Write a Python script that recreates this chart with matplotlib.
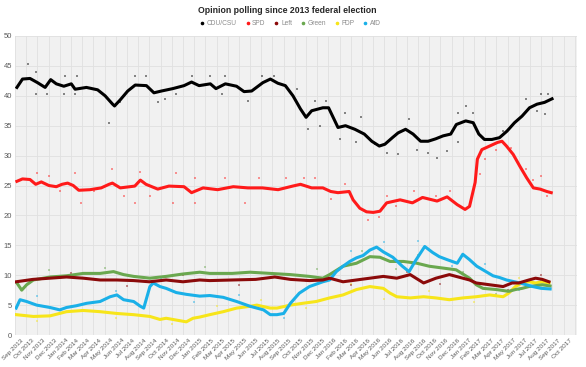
import matplotlib
matplotlib.use("Agg")
import matplotlib.pyplot as plt
from matplotlib.lines import Line2D

plt.rcParams['font.family'] = ['Liberation Sans', 'DejaVu Sans']

# month index: 0 = Sep 2013
months = ["Sep", "Oct", "Nov", "Dec", "Jan", "Feb", "Mar", "Apr", "May", "Jun", "Jul", "Aug"]
tick_labels = []
for i in range(50):
    mo = months[i % 12]
    yr = 2013 + (i + 8) // 12
    tick_labels.append(f"{mo} {yr}")

# trend lines (month index, percent)
cdu_x = [0.17,0.67,1.34,2.01,2.69,3.19,3.69,4.36,5.03,5.37,6.38,7.38,8.05,8.72,8.89,9.39,10.07,10.74,11.74,12.41,13.08,14.09,15.1,15.77,16.44,17.45,17.95,18.79,19.79,20.46,21.14,22.14,22.81,23.48,24.15,24.83,25.5,26.0,26.5,27.5,28.01,28.52,28.85,29.52,30.36,31.2,31.87,32.54,33.04,33.71,34.22,34.89,35.56,36.23,36.9,37.57,38.24,38.92,39.42,40.26,40.93,41.43,41.93,42.6,43.28,43.95,44.62,45.29,45.96,46.63,47.3,47.97]
cdu_v = [41.4,42.8,42.9,42.2,41.4,42.7,42.0,41.6,42.0,41.1,41.4,41.0,40.0,38.6,38.3,39.3,40.8,41.8,41.7,40.5,40.8,41.2,41.7,42.3,41.7,42.0,41.2,42.0,41.6,40.7,40.8,42.2,42.8,42.1,41.7,40.0,37.8,36.4,37.5,38.0,38.0,36.0,34.7,35.0,34.4,33.6,32.4,31.6,31.9,33.0,33.8,34.4,33.6,32.4,32.4,32.8,33.3,33.6,35.2,35.8,35.5,33.6,32.7,32.7,33.0,34.1,35.5,36.6,38.0,38.6,38.9,39.5]

spd_x = [0.17,0.67,1.34,1.85,2.35,3.02,3.69,4.2,4.7,5.2,5.7,6.7,7.7,8.4,8.7,9.4,10.7,11.2,11.7,12.75,13.75,15.1,15.77,16.8,18.1,19.5,20.8,22.1,23.5,24.8,25.5,26.5,27.5,28.2,28.85,29.85,30.2,30.8,31.4,32.0,32.6,33.2,34.4,35.5,36.4,37.7,38.6,39.5,40.2,40.6,41.1,41.3,41.7,42.4,43.1,43.5,43.9,44.5,45.1,45.7,46.3,46.9,47.5,47.9]
spd_v = [25.7,26.1,26.0,25.2,25.6,25.0,24.8,25.2,25.4,25.0,24.2,24.3,24.6,25.2,25.4,24.6,24.9,25.9,25.2,24.4,24.9,24.8,23.8,24.6,24.3,24.8,24.6,24.6,24.3,24.9,25.2,24.6,24.6,24.0,23.8,24.0,22.6,21.2,20.6,20.5,20.7,22.1,22.6,22.1,23.0,22.4,23.1,21.8,21.0,21.5,25.5,29.4,31.0,31.6,32.2,32.4,31.6,30.2,28.2,26.3,24.6,24.4,24.0,23.8]

left_x = [0.1,1.6,4.6,6.1,7.6,9.1,10.6,12.0,13.5,15.0,16.5,17.4,19.4,21.5,23.2,24.6,26.3,27.5,28.1,29.3,30.5,31.7,32.9,34.1,35.3,36.5,37.6,38.8,40.0,40.6,41.2,42.4,43.6,44.4,45.0,45.9,46.5,47.1,47.7]
left_v = [8.9,9.3,9.7,9.5,9.2,9.2,9.1,8.9,9.2,8.9,9.2,9.1,9.2,9.3,9.7,9.3,9.1,9.2,9.5,8.9,9.2,9.5,9.8,9.5,10.1,8.7,9.5,10.1,9.5,9.2,8.7,8.4,8.1,8.7,8.7,9.2,9.5,9.3,8.9]

green_x = [0.17,0.6,1.04,1.64,3.13,4.6,6.1,7.6,8.8,9.7,10.6,12.05,13.5,15.0,16.5,17.4,19.4,21.0,22.8,24.6,26.3,27.5,28.1,29.3,30.5,31.7,32.6,33.5,34.7,35.9,37.0,38.2,39.4,40.6,41.2,41.8,43.0,44.1,44.7,45.3,45.9,47.1,47.8]
green_v = [8.7,7.5,8.4,9.2,9.7,9.9,10.3,10.3,10.6,10.1,9.8,9.5,9.8,10.2,10.5,10.3,10.3,10.5,10.3,10.1,9.8,9.5,10.1,11.5,12.0,13.1,13.0,12.3,12.3,12.0,11.5,11.2,10.9,9.5,8.4,7.8,7.6,7.3,7.6,7.8,8.1,8.4,8.2]

fdp_x = [0.1,1.64,3.13,4.6,6.1,7.6,9.1,10.6,12.05,12.95,13.5,14.4,15.3,15.9,16.5,17.4,18.6,19.8,21.0,21.6,22.8,23.4,24.6,25.7,26.9,28.1,29.3,30.5,31.7,32.9,33.5,34.1,35.3,36.5,37.6,38.8,40.0,41.2,42.4,43.6,44.1,44.7,45.3,45.9,46.5,47.1,47.7]
fdp_v = [3.4,3.1,3.2,3.9,4.1,3.9,3.6,3.4,3.1,2.6,2.8,2.5,2.2,2.8,3.0,3.4,3.9,4.5,4.8,5.0,4.5,4.5,5.0,5.3,5.6,6.2,6.7,7.6,8.1,7.8,7.0,6.4,6.2,6.4,6.2,5.9,6.2,6.4,6.7,6.4,7.0,8.1,8.7,8.9,8.7,8.9,8.7]

afd_x = [0.1,0.45,1.04,1.93,3.13,4.0,4.6,5.5,6.4,7.6,8.5,9.1,9.7,10.6,11.2,11.5,12.05,12.35,12.95,13.5,14.4,15.3,16.5,17.4,18.6,19.8,21.0,22.2,22.8,23.4,24.0,24.6,25.4,26.3,27.5,28.1,28.7,29.3,29.9,30.5,31.1,31.7,32.3,32.9,33.75,34.6,35.2,35.8,36.6,37.3,37.9,38.6,39.5,40.0,40.6,41.25,41.8,42.7,43.3,43.9,45.1,46.25,47.0,47.8]
afd_v = [4.5,5.9,5.6,5.0,4.6,4.2,4.6,4.9,5.3,5.6,6.4,6.7,5.9,5.6,4.8,4.5,8.1,8.7,8.1,7.8,7.1,6.8,6.5,6.6,6.3,5.6,4.8,4.2,3.4,3.4,3.6,5.3,7.0,8.1,8.9,9.2,10.6,11.5,12.3,12.9,13.3,14.2,14.7,13.9,13.0,11.5,10.6,12.5,14.8,13.8,13.1,12.6,12.0,13.5,12.6,11.5,10.9,9.9,9.6,9.2,8.7,8.1,7.8,7.7]

# individual poll results (sampled, month index, percent)
cdu_poll_x = [1.18,1.85,1.85,2.85,4.36,5.37,4.5,5.5,8.4,9.4,10.7,11.7,12.75,13.4,14.4,15.8,17.4,18.8,18.5,20.8,22.1,23.1,25.2,26.2,27.2,26.8,27.8,29.0,29.5,30.9,30.5,32.2,33.2,34.2,35.2,35.9,36.9,37.7,38.6,39.6,40.3,40.9,39.6,42.3,43.6,45.0,45.6,47.0,47.3,47.6,46.6]
cdu_poll_v = [45.3,43.9,40.3,40.3,40.3,40.3,43.3,43.3,35.5,38.9,43.3,43.3,38.9,39.4,40.3,43.3,43.3,43.3,40.3,39.1,43.3,43.3,41.1,34.4,35.0,39.1,39.1,32.7,37.2,36.4,32.2,31.9,30.5,30.2,36.1,31.0,30.5,29.6,30.8,37.2,38.3,37.2,32.2,32.7,34.1,36.1,39.4,40.3,36.9,40.3,37.5]

spd_poll_x = [2.0,3.0,4.0,5.4,5.9,8.7,7.05,9.7,11.2,10.7,12.1,14.4,14.1,16.1,16.1,18.8,20.5,21.8,24.2,25.8,26.8,28.2,29.5,31.5,32.5,33.2,34.0,35.6,37.6,38.9,41.5,42.0,43.0,44.3,45.6,46.3,47.0,47.5]
spd_poll_v = [27.1,26.6,24.0,27.1,22.1,27.7,24.0,23.2,27.2,22.1,23.2,27.1,22.1,22.1,26.3,26.3,22.1,26.3,26.3,26.3,26.3,22.7,25.2,19.3,19.8,23.2,21.5,24.0,23.2,24.0,27.0,29.4,31.0,31.3,27.7,26.0,26.6,23.2]

left_poll_x = [5.0,10.0,15.0,20.0,25.0,30.0,35.0,38.0,44.0,47.0]
left_poll_v = [10.3,8.2,10.0,8.3,10.0,8.3,10.5,8.5,7.5,10.0]

green_poll_x = [3.0,8.0,12.0,17.0,22.0,27.0,31.0,34.0,36.0,40.0,43.0,46.0]
green_poll_v = [10.8,11.2,8.9,11.3,9.4,11.0,14.0,11.0,13.3,10.5,6.8,9.0]

fdp_poll_x = [2.0,5.0,9.0,14.0,18.0,22.0,26.0,30.0,33.0,37.0,41.0,45.0,47.0]
fdp_poll_v = [2.3,4.8,2.8,1.9,4.8,5.8,4.5,8.6,6.0,7.3,5.5,9.6,7.8]

afd_poll_x = [2.0,6.0,9.0,13.0,16.0,20.0,24.0,26.0,30.0,33.0,36.0,39.0,42.0,45.0,47.0]
afd_poll_v = [6.5,4.2,7.4,9.5,5.6,6.7,2.8,9.0,14.0,15.5,15.7,11.5,11.8,7.5,9.0]

parties = ["CDU/CSU", "SPD", "Left", "Green", "FDP", "AfD"]
colors = {"CDU/CSU": "#000000", "SPD": "#ff1a1a", "Left": "#8b0a0a",
          "Green": "#6aa84f", "FDP": "#f7e51a", "AfD": "#1ab0e8"}
series = {"CDU/CSU": (cdu_x, cdu_v), "SPD": (spd_x, spd_v), "Left": (left_x, left_v),
          "Green": (green_x, green_v), "FDP": (fdp_x, fdp_v), "AfD": (afd_x, afd_v)}
polls = {"CDU/CSU": (cdu_poll_x, cdu_poll_v), "SPD": (spd_poll_x, spd_poll_v),
         "Left": (left_poll_x, left_poll_v), "Green": (green_poll_x, green_poll_v),
         "FDP": (fdp_poll_x, fdp_poll_v), "AfD": (afd_poll_x, afd_poll_v)}
draw_order = ["FDP", "Green", "AfD", "Left", "SPD", "CDU/CSU"]

fig = plt.figure(figsize=(5.86, 3.67), dpi=100)
ax = fig.add_axes([15/586, 1-335/367, (577-15)/586, (335-36)/367])
ax.set_facecolor("#f1f1f1")

for p in draw_order:
    px, pv = polls[p]
    ax.scatter(px, pv, s=2.5, marker='s', color=colors[p], alpha=0.45, lw=0, zorder=2)
for p in draw_order:
    xs, vs = series[p]
    ax.plot(xs, vs, color=colors[p], lw=2.2, solid_joinstyle='round', zorder=3)

ax.set_xlim(0, 50.2)
ax.set_ylim(0, 50)
ax.set_yticks(range(0, 51, 5))
ax.set_xticks([i + 0.5 for i in range(50)])
ax.set_xticklabels(tick_labels, rotation=45, ha='right', rotation_mode='anchor',
                   fontsize=4.6, color="#595959")
ax.set_xticks(range(0, 51), minor=True)
ax.tick_params(axis='x', which='both', length=0, pad=2)
ax.tick_params(axis='y', length=0, pad=2, labelsize=5.5, labelcolor="#595959")
ax.grid(True, axis='x', which='minor', color="#e0e0e0", lw=0.6)
ax.grid(True, axis='y', which='major', color="#e0e0e0", lw=0.6)
ax.grid(False, axis='x', which='major')
for s in ax.spines.values():
    s.set_visible(False)

fig.text(0.49, 0.972, "Opinion polling since 2013 federal election", ha='center', va='center',
         fontsize=6.3, fontweight='bold', color="#262626")

handles = [Line2D([], [], ls='none', marker='o', ms=1.6, color=colors[p]) for p in parties]
fig.legend(handles, parties, loc='center', bbox_to_anchor=(0.495, 0.935), ncol=6,
           frameon=False, fontsize=4.8, labelcolor="#8c8c8c", handletextpad=0.3,
           columnspacing=1.2, handlelength=0.8)

fig.savefig("out.png", dpi=100)
